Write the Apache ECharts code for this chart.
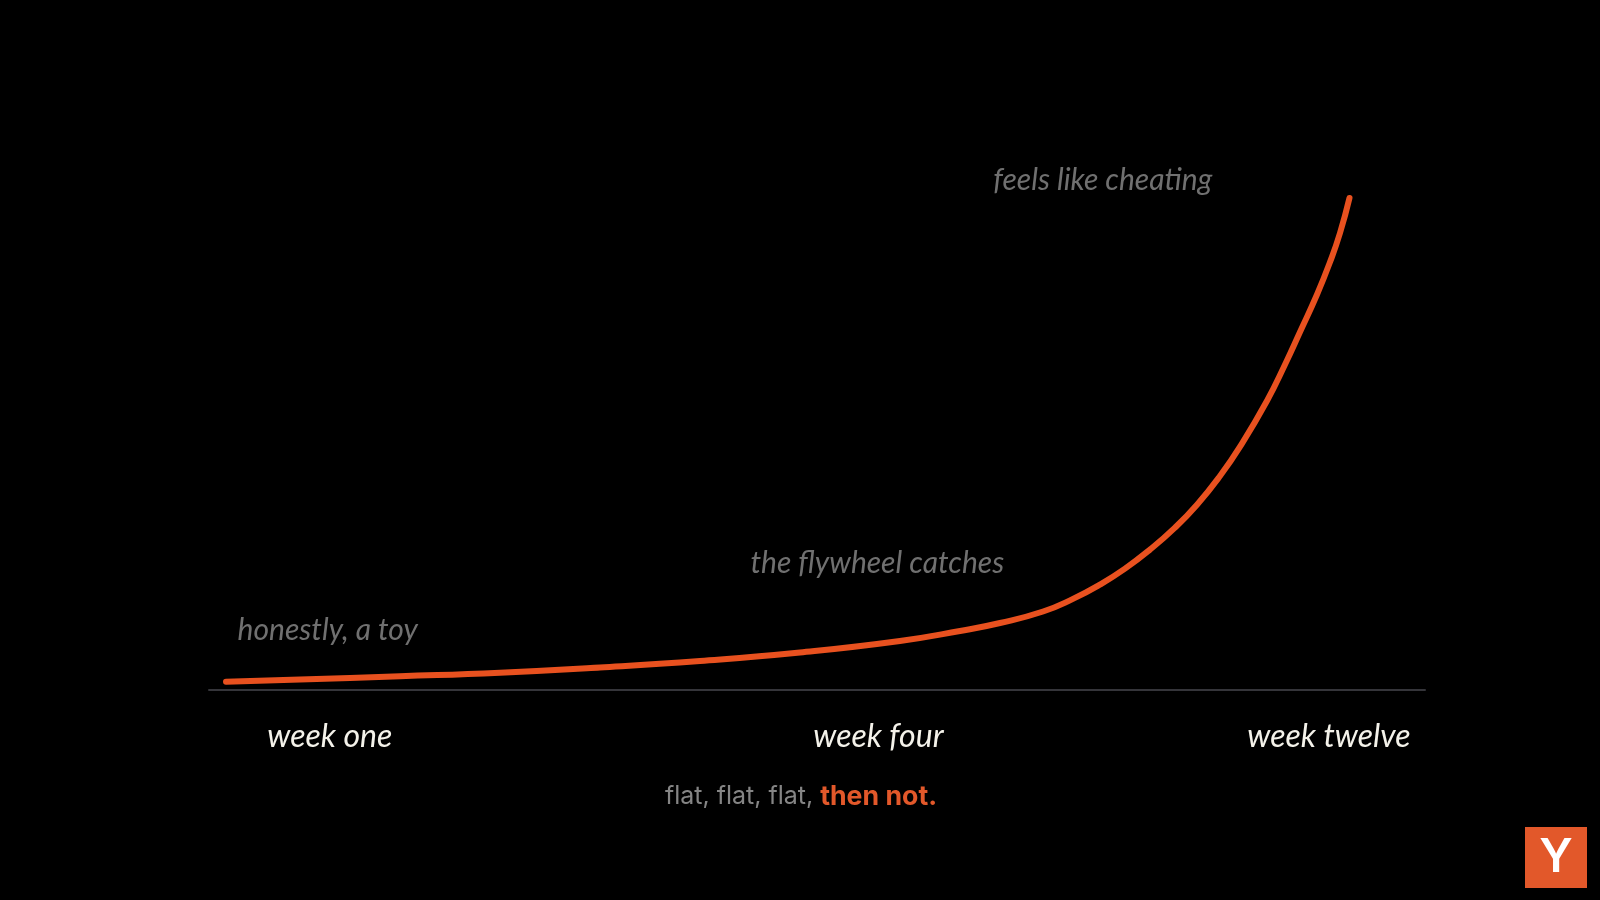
<!DOCTYPE html>
<html>
<head>
<meta charset="utf-8">
<style>html,body{margin:0;padding:0;background:#000;width:100%;height:100%;overflow:hidden}#c{width:1600px;height:900px}</style>
<script src="https://cdn.jsdelivr.net/npm/echarts@6/dist/echarts.min.js"></script>
</head>
<body>
<div id="c"></div>
<script>
const progress = [1.40,7.48,15.71,23.93,32.15,40.38,48.6,56.82,61.76,65.05,68.59,71.05,73.27,75.33,77.38,79.44,81.25,83.14,84.79,87.01,88.49,89.72,91.12,92.19,93.01,93.79];
const growth = [1.66,2.08,2.74,3.46,4.5,5.8,7.5,9.8,11.8,13.4,15.7,18.22,21.08,24.28,28.08,32.48,37.06,42.8,48.68,57.86,65.1,71.6,79.1,85.6,91.4,98.4];
const weekLabels = ['week one','week four','week twelve'];
const weekPositions = [9.94,55.05,92.1];
const noteTexts = ['honestly, a toy','the flywheel catches','feels like cheating'];
const noteX = [9.76,54.96,73.5];
const noteY = [12,25.4,102];
const ORANGE='#E8511F', HAND='Lato';
const chart = echarts.init(document.getElementById('c'),null,{width:1600,height:900});
chart.setOption({
  backgroundColor:'#000',
  animation:false,
  grid:{left:209,width:1216,top:90,height:600},
  title:{
    text:'{a|flat, flat, flat, }{b|then not.}',
    left:796,top:778,textAlign:'center',
    textStyle:{rich:{
      a:{fontFamily:'Inter',fontSize:25,color:'#858585',fontWeight:400},
      b:{fontFamily:'Inter',fontSize:26.7,color:'#E2582A',fontWeight:700}
    }}
  },
  xAxis:{type:'value',min:0,max:100,
    splitLine:{show:false},
    axisLine:{show:true,lineStyle:{color:'#35353a',width:2}},
    axisTick:{show:false},
    axisLabel:{show:true,customValues:weekPositions,margin:31,
      formatter:(v)=>weekLabels[weekPositions.indexOf(v)],
      color:'#f4f2ea',fontFamily:HAND,fontStyle:'italic',fontSize:32,fontWeight:400}
  },
  yAxis:{type:'value',min:0,max:120,show:false},
  series:[
    {type:'line',data:progress.map((x,i)=>[x,growth[i]]),smooth:0.5,showSymbol:false,
     lineStyle:{color:ORANGE,width:6,cap:'round',join:'round'},z:3},
    {type:'scatter',data:noteTexts.map((t,i)=>({value:[noteX[i],noteY[i]],name:t})),symbolSize:0,
     label:{show:true,position:'inside',formatter:(p)=>p.name,color:'#8c8c8c',fontFamily:HAND,fontStyle:'italic',fontSize:30}}
  ],
  graphic:[
    {type:'rect',shape:{x:1525,y:827,width:62,height:61},style:{fill:'#E2582A'}},
    {type:'text',x:1556,y:858,style:{text:'Y',fill:'#fff',font:'600 47px Inter',textAlign:'center',textVerticalAlign:'middle'}}
  ]
});
</script>
</body>
</html>
